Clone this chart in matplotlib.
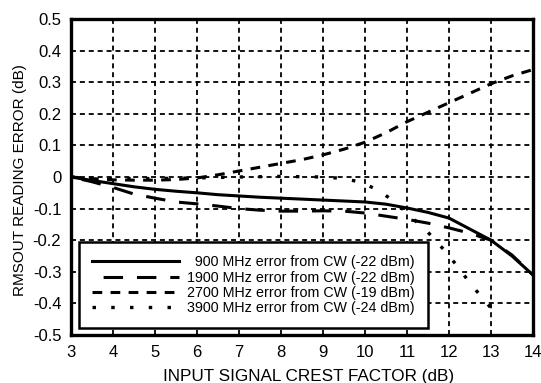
import matplotlib.pyplot as plt

plt.rcParams['font.family'] = ['Liberation Sans', 'DejaVu Sans']
plt.rcParams['lines.scale_dashes'] = False

# crest factor (dB)
x_900 = [3.0, 3.5, 4.0, 4.5, 5.0, 5.5, 6.0, 6.5, 7.0, 7.5, 8.0, 8.5, 9.0, 9.5, 10.0,
         10.5, 11.0, 11.5, 12.0, 12.5, 13.0, 13.5, 14.0]
err_900 = [0.0, -0.011, -0.021, -0.031, -0.039, -0.045, -0.05, -0.056, -0.06, -0.064, -0.067,
           -0.07, -0.073, -0.076, -0.079, -0.086, -0.098, -0.112, -0.13, -0.165, -0.2,
           -0.25, -0.31]

x_1900 = [3.0, 3.5, 4.0, 4.5, 5.0, 5.5, 6.0, 6.5, 7.0, 7.5, 8.0, 8.5, 9.0, 9.5, 10.0,
          10.5, 11.0, 11.5, 12.0, 12.5, 13.0, 13.5, 14.0]
err_1900 = [0.0, -0.015, -0.033, -0.054, -0.067, -0.079, -0.085, -0.092, -0.1, -0.105, -0.108,
            -0.108, -0.107, -0.108, -0.114, -0.124, -0.134, -0.146, -0.161, -0.178, -0.2,
            -0.247, -0.31]

x_2700 = [3.0, 3.5, 4.0, 4.5, 5.0, 5.5, 6.0, 6.5, 7.0, 7.5, 8.0, 8.5, 9.0, 9.5, 10.0,
          10.5, 11.0, 11.5, 12.0, 12.5, 13.0, 13.5, 14.0]
err_2700 = [0.0, -0.005, -0.009, -0.01, -0.01, -0.008, -0.003, 0.007, 0.019, 0.031, 0.043,
            0.055, 0.07, 0.088, 0.11, 0.14, 0.175, 0.205, 0.235, 0.265, 0.295, 0.32, 0.34]

x_3900 = [3.0, 4.0, 5.0, 6.0, 7.0, 8.0, 9.0, 9.5, 9.85, 10.3, 10.7, 11.1, 11.5, 11.85,
          12.2, 12.5, 12.85, 13.2]
err_3900 = [0.0, -0.005, -0.005, -0.003, 0.0, 0.002, 0.0, -0.005, -0.015, -0.04, -0.078,
            -0.126, -0.175, -0.226, -0.282, -0.336, -0.391, -0.447]

labels = ["\u2007900 MHz error from CW (-22 dBm)",
          "1900 MHz error from CW (-22 dBm)",
          "2700 MHz error from CW (-19 dBm)",
          "3900 MHz error from CW (-24 dBm)"]

x_ticks = list(range(3, 15))
y_ticks = [0.5, 0.4, 0.3, 0.2, 0.1, 0.0, -0.1, -0.2, -0.3, -0.4, -0.5]
y_tick_labels = ["0.5", "0.4", "0.3", "0.2", "0.1", "0", "-0.1", "-0.2", "-0.3", "-0.4", "-0.5"]

fig = plt.figure(figsize=(5.41, 3.83), dpi=100)
ax = fig.add_axes([0.1312, 0.1253, 0.8540, 0.8251])

ax.plot(x_900, err_900, color='black', lw=2.2, ls='-', label=labels[0])
ax.plot(x_1900, err_1900, color='black', lw=2.2, ls=(16, (14, 10)), label=labels[1])
ax.plot(x_2700, err_2700, color='black', lw=2.2, ls=(0, (7, 6)), label=labels[2])
ax.plot(x_3900, err_3900, color='black', lw=2.4, ls=(0, (2.5, 11)), label=labels[3])

ax.set_xlim(3, 14)
ax.set_ylim(-0.5, 0.5)
ax.set_xticks(x_ticks)
ax.set_yticks(y_ticks)
ax.set_yticklabels(y_tick_labels)
ax.tick_params(length=0, labelsize=12, pad=7)
ax.grid(True, color='black', ls=(0, (3.6, 2.8)), lw=1.3)

for s in ax.spines.values():
    s.set_linewidth(2.4)

ax.set_xlabel("INPUT SIGNAL CREST FACTOR (dB)", fontsize=12.3, va='top')
ax.xaxis.set_label_coords(0.514, -0.106)
ax.set_ylabel("RMSOUT READING ERROR (dB)", fontsize=11)
ax.yaxis.set_label_coords(-0.095, 0.49)

leg = ax.legend(loc='lower left', bbox_to_anchor=(0.017, 0.022), fontsize=10.3,
                handlelength=6.1, handletextpad=0.56, borderpad=0.92, labelspacing=0.08,
                borderaxespad=0.0, fancybox=False, framealpha=1.0, edgecolor='black')
leg.get_frame().set_linewidth(1.8)

fig.savefig("out.png", dpi=100)
